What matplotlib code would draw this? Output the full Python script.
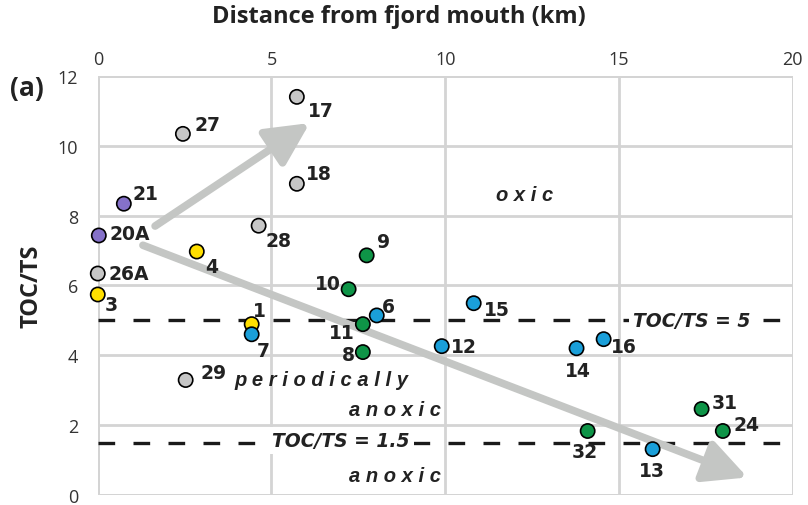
import matplotlib.pyplot as plt

# sample sites: distance from fjord mouth (km) and TOC/TS ratio
sites = ['27', '17', '18', '21', '20A', '28', '4', '9', '26A', '3', '10', '15', '6',
         '1', '11', '7', '8', '12', '14', '16', '29', '31', '24', '32', '13']
distance = [2.45, 5.73, 5.73, 0.75, 0.03, 4.63, 2.85, 7.74, 0.0, 0.0, 7.22, 10.82, 8.03,
            4.43, 7.63, 4.43, 7.63, 9.9, 13.78, 14.56, 2.53, 17.38, 17.99, 14.1, 15.97]
toc_ts = [10.34, 11.4, 8.91, 8.34, 7.43, 7.71, 6.97, 6.86, 6.34, 5.74, 5.89, 5.49, 5.14,
          4.89, 4.89, 4.6, 4.09, 4.26, 4.2, 4.46, 3.29, 2.46, 1.83, 1.83, 1.31]
group = ['grey', 'grey', 'grey', 'purple', 'purple', 'grey', 'yellow', 'green', 'grey',
         'yellow', 'green', 'blue', 'blue', 'yellow', 'green', 'blue', 'green', 'blue',
         'blue', 'blue', 'grey', 'green', 'green', 'green', 'blue']

thresholds = [5, 1.5]

colors = {'grey': '#c6c6c6', 'purple': '#8571c9', 'yellow': '#ffdf00',
          'blue': '#1a9fd9', 'green': '#0e9447'}

# label placement (pixel offset from the marker, horizontal alignment)
label_pos = {
    '27': (12, 9, 'left'), '17': (11, -14, 'left'), '18': (9, 10, 'left'),
    '21': (9, 10, 'left'), '20A': (11, 2, 'left'), '28': (7, -15, 'left'),
    '4': (8, -15, 'left'), '9': (10, 14, 'left'), '26A': (11, 0, 'left'),
    '3': (7, -10, 'left'), '10': (-8, 6, 'right'), '15': (10, -6, 'left'),
    '6': (5, 9, 'left'), '1': (1, 14, 'left'), '11': (-8, -8, 'right'),
    '7': (5, -16, 'left'), '8': (-8, -2, 'right'), '12': (9, 0, 'left'),
    '14': (1, -22, 'center'), '16': (7, -7, 'left'), '29': (15, 8, 'left'),
    '31': (10, 6, 'left'), '24': (11, 6, 'left'), '32': (-3, -21, 'center'),
    '13': (-1, -21, 'center'),
}

plt.rcParams['font.family'] = ['Liberation Sans', 'DejaVu Sans']

fig = plt.figure(figsize=(8.08, 5.06), dpi=100)
ax = fig.add_axes([0.121, 0.020, 0.860, 0.828])
ax.set_xlim(0, 20)
ax.set_ylim(0, 12)

# grid drawn as a light box
for s in ax.spines.values():
    s.set_visible(False)
ax.set_xticks([0, 5, 10, 15, 20])
ax.set_yticks(range(0, 13, 2))
ax.grid(True, color='#d4d4d4', lw=2)
for v in (0, 20):
    ax.axvline(v, color='#d4d4d4', lw=2, zorder=0.5)
for v in (0, 12):
    ax.axhline(v, color='#d4d4d4', lw=2, zorder=0.5)
ax.set_axisbelow(True)
ax.xaxis.tick_top()
ax.xaxis.set_label_position('top')
ax.tick_params(length=0, labelsize=13, colors='#333333', pad=6)
for lab in ax.get_xticklabels() + ax.get_yticklabels():
    lab.set_family('Open Sans')
ax.tick_params(axis='y', pad=14)
ax.set_xlabel('Distance from fjord mouth (km)', fontsize=17, fontweight='bold',
              family='Open Sans', color='#222222', va='center')
ax.xaxis.set_label_coords(0.433, 1.143)
ax.set_ylabel('TOC/TS', fontsize=17, fontweight='bold', family='Open Sans', labelpad=10,
              color='#222222')
fig.text(0.012, 0.826, '(a)', fontsize=19, fontweight='bold', family='Open Sans',
         va='center', color='#222222')

# threshold lines
for t in thresholds:
    ax.axhline(t, color='#1a1a1a', lw=2.4, dashes=(5, 5.5), zorder=1)
box = dict(facecolor='white', edgecolor='none', pad=3)
thr_kw = dict(style='italic', fontweight='bold', fontsize=13.5, family='DejaVu Sans',
              ha='center', va='center', color='#222222', bbox=box, zorder=2)
ax.text(17.1, 5, 'TOC/TS = 5', **thr_kw)
ax.text(7.0, 1.55, 'TOC/TS = 1.5', **thr_kw)

# trend arrows
arrow_kw = dict(arrowstyle='-|>,head_length=2.6,head_width=1.3', color='#c4c6c4', lw=5.5,
                shrinkA=0, shrinkB=0)
ax.annotate('', xy=(6.1, 10.65), xytext=(1.65, 7.7), arrowprops=arrow_kw, zorder=2)
ax.annotate('', xy=(18.7, 0.5), xytext=(1.3, 7.15), arrowprops=arrow_kw, zorder=2)

# zone names
zone_kw = dict(style='italic', fontweight='bold', fontsize=14.5, color='#222222', zorder=3)
ax.text(12.3, 8.6, 'o x i c', ha='center', va='center', **zone_kw)
ax.text(6.45, 3.3, 'p e r i o d i c a l l y', ha='center', va='center', **zone_kw)
ax.text(8.55, 2.45, 'a n o x i c', ha='center', va='center', **zone_kw)
ax.text(8.55, 0.55, 'a n o x i c', ha='center', va='center', **zone_kw)

ax.scatter(distance, toc_ts, s=105, c=[colors[g] for g in group], edgecolors='black',
           linewidths=1.2, zorder=4, clip_on=False)

for name, x, y in zip(sites, distance, toc_ts):
    dx, dy, ha = label_pos[name]
    ax.annotate(name, (x, y), xytext=(dx, dy), textcoords='offset pixels', ha=ha,
                va='center', fontsize=13.5, fontweight='bold', family='DejaVu Sans',
                color='#222222', zorder=5)

fig.savefig('out.png', dpi=100)
